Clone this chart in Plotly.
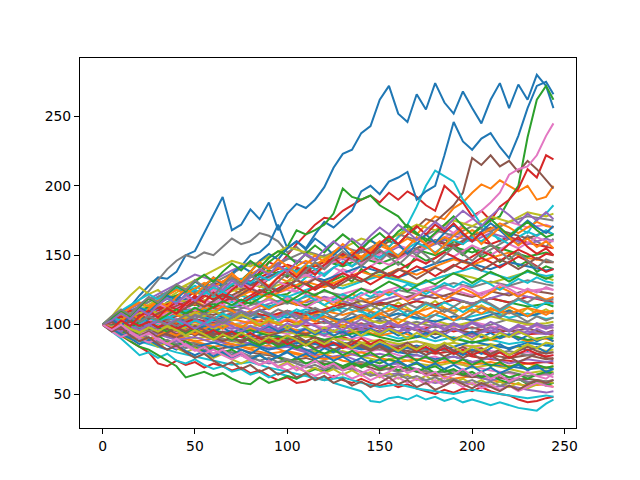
import plotly.graph_objects as go

X5 = list(range(0, 241, 5)) + [244]
X10 = list(range(0, 241, 10)) + [244]

# Prominent paths (read every 5 steps)
path_blue_top = [100,104,109,113,121,128,134,133,138,150,
                 153,166,180,192,168,172,183,176,188,168,
                 180,187,184,190,199,213,223,226,238,243,
                 262,272,252,246,266,255,274,260,252,268,
                 256,245,262,274,256,273,262,280,272,256]
path_blue_second = [100,97,102,104,108,112,110,116,120,118,
                    125,122,130,128,136,142,150,152,158,172,
                    155,160,155,165,174,170,176,182,196,200,
                    194,203,206,210,190,196,200,222,246,232,
                    226,234,238,228,220,236,256,272,275,266]
path_green_spike = [100,98,101,97,104,107,110,106,108,112,
                    115,111,112,116,120,117,118,122,125,121,
                    122,127,130,126,128,132,135,131,140,136,
                    138,142,145,141,150,146,148,153,160,158,
                    165,170,175,178,190,200,235,262,272,262]
path_green_mid = [100,103,99,105,108,104,110,114,111,117,
                  120,116,123,128,125,132,138,135,145,150,
                  156,168,165,168,172,180,198,192,190,193,
                  186,182,178,170,165,162,158,162,155,150,
                  156,148,152,145,150,142,146,138,142,140]
path_pink_high = [100,97,101,96,99,103,98,104,108,105,
                  110,113,109,115,118,114,120,124,119,125,
                  128,124,130,134,129,135,140,137,143,148,
                  145,152,150,156,162,158,165,170,166,172,
                  176,182,188,195,208,212,214,222,236,245]
path_red_high = [100,102,99,104,101,106,110,107,113,117,
                 114,120,125,122,128,133,130,138,145,142,
                 150,158,165,172,177,176,182,186,190,193,
                 188,195,190,196,192,186,182,200,194,188,
                 178,182,175,185,190,198,212,206,222,219]
path_brown_high = [100,99,103,106,102,108,112,110,115,119,
                   116,122,118,124,128,125,131,127,133,138,
                   134,140,137,143,140,146,150,147,153,150,
                   156,160,158,165,170,176,174,180,186,195,
                   220,215,222,214,218,210,218,212,204,198]
path_orange_high = [100,103,107,104,110,106,112,116,113,118,
                    115,121,124,120,126,122,128,132,128,134,
                    131,137,140,136,142,146,143,150,148,155,
                    160,156,163,168,165,172,178,176,184,188,
                    195,201,198,204,200,196,200,190,192,200]
path_cyan_high = [100,96,99,95,101,104,100,106,110,107,
                  112,109,115,119,116,121,118,124,128,125,
                  131,128,134,138,135,141,145,142,148,152,
                  158,156,163,172,185,200,211,207,203,190,
                  182,172,168,160,164,170,166,176,180,186]
path_cyan_low = [100,95,90,84,78,80,76,79,74,72,
                 75,71,68,70,66,68,64,66,62,65,
                 63,61,64,60,62,58,56,54,52,45,
                 44,47,48,46,49,46,48,45,47,44,
                 46,44,42,44,42,40,39,38,43,46]
path_red_low = [100,97,92,88,84,80,72,70,74,71,
                73,69,72,70,67,69,65,67,63,60,
                62,58,59,62,60,63,60,58,61,58,
                56,58,55,57,54,52,50,53,51,54,
                52,55,52,50,49,46,44,45,47,48]
path_green_low = [100,96,93,88,84,82,78,74,70,62,
                  64,66,63,65,61,58,57,62,58,60,
                  63,61,65,68,66,70,68,72,70,74,
                  72,75,73,70,72,68,70,66,68,64,
                  66,62,64,60,58,61,57,59,56,58]
path_gray_high = [100,104,108,112,118,124,132,140,146,150,
                  148,152,150,156,162,158,160,166,164,160,
                  152,156,150,146,150,144,148,142,146,150,
                  146,152,148,154,150,156,160,155,158,152,
                  156,150,154,158,162,158,164,160,156,162]
path_olive_early = [100,106,114,121,127,122,125,119,123,128,
                    124,120,126,122,118,123,119,115,120,116,
                    121,117,113,118,114,110,115,119,114,110,
                    115,111,116,112,108,113,117,112,108,113,
                    109,114,110,106,111,107,112,108,111,108]

# Background paths read every 10 steps
background_paths = [
    [100,94,90,86,88,82,79,80,76,72,74,70,67,69,66,63,65,61,58,60,57,55,56,53,51,52],
    [100,97,95,98,92,88,90,86,83,85,80,77,79,74,72,70,66,68,64,61,63,60,58,56,57,55],
    [100,103,98,96,92,94,89,85,87,82,84,80,76,78,73,70,72,68,65,67,63,60,62,59,57,58],
    [100,96,92,94,90,86,82,84,80,78,74,76,72,69,71,67,70,66,63,65,62,64,60,61,59,60],
    [100,102,106,101,97,99,94,96,91,88,90,86,88,84,80,82,78,75,77,72,70,67,65,63,64,62],
    [100,95,91,88,85,87,83,80,77,79,75,72,74,70,73,69,66,68,65,67,64,62,66,63,65,64],
    [100,98,101,97,94,90,92,88,85,83,86,82,79,81,77,74,76,72,70,73,69,71,68,65,67,66],
    [100,104,101,98,100,96,93,95,91,94,90,87,89,85,82,84,80,78,75,77,73,71,70,68,69,68],
    [100,97,93,95,91,88,84,86,82,79,81,78,75,77,80,76,73,75,72,74,71,73,70,72,69,70],
    [100,103,107,104,108,103,99,101,97,94,96,92,89,91,87,84,86,82,79,81,77,75,74,72,73,72],
    [100,96,98,93,89,91,87,90,86,83,85,81,84,80,77,79,76,78,74,77,73,76,72,75,73,74],
    [100,101,97,99,95,98,94,91,93,89,92,88,85,87,84,86,82,80,83,79,81,78,76,78,75,76],
    [100,105,102,108,104,100,103,98,95,97,93,96,92,89,91,87,85,88,84,82,85,81,79,80,77,78],
    [100,97,94,96,92,95,91,88,90,86,89,85,87,84,86,82,85,81,83,80,82,79,81,78,80,80],
    [100,102,99,95,97,93,96,100,96,93,95,91,94,90,87,89,86,88,85,87,84,86,83,85,81,82],
    [100,98,102,106,103,107,104,100,102,98,95,97,93,96,92,94,90,92,88,91,87,89,86,88,85,84],
    [100,95,92,89,86,84,87,83,86,82,85,88,84,87,83,86,82,85,81,84,88,85,83,87,85,86],
    [100,104,100,103,99,102,98,101,97,95,98,94,97,93,96,92,95,91,94,90,93,89,92,88,90,88],
    [100,99,95,98,102,99,96,93,96,92,90,93,89,92,95,91,88,91,94,90,87,90,93,89,91,90],
    [100,106,110,107,113,109,105,108,104,101,103,99,102,98,101,97,100,96,99,95,98,94,96,93,94,92],
    [100,97,100,96,99,103,100,97,99,95,98,101,97,100,96,99,95,98,94,97,93,96,92,95,93,94],
    [100,102,98,95,91,94,90,93,89,92,96,93,97,94,98,95,99,96,93,97,94,98,95,97,94,96],
    [100,96,93,97,94,98,102,99,103,100,104,101,98,102,99,103,100,97,101,98,102,99,96,100,97,98],
    [100,104,108,105,101,104,100,103,107,104,108,105,101,104,100,103,99,102,98,101,97,100,104,101,99,100],
    [100,98,95,99,96,100,97,101,98,102,99,103,106,102,105,101,104,100,103,99,102,106,103,100,101,102],
    [100,103,107,111,108,112,109,105,108,104,107,111,108,112,109,105,108,104,107,103,106,109,105,108,104,105],
    [100,97,101,98,102,106,103,107,104,108,105,109,106,103,107,104,108,105,102,106,103,107,110,106,109,108],
    [100,105,102,98,101,97,100,104,101,105,109,106,110,107,111,108,112,109,113,110,114,111,108,112,109,110],
    [100,102,106,103,107,111,115,112,116,113,117,114,118,115,112,116,113,117,114,118,115,119,116,113,115,113],
    [100,96,99,103,100,104,101,105,109,106,110,107,111,115,112,116,113,117,114,118,115,119,116,120,117,116],
    [100,104,101,105,109,106,110,114,111,115,119,116,120,117,113,117,121,118,122,119,115,119,123,120,118,119],
    [100,103,99,102,106,110,107,111,108,112,116,113,109,113,117,114,118,122,119,123,120,124,121,125,123,122],
    [100,106,112,109,115,119,116,120,124,121,125,122,118,122,126,123,127,124,128,125,121,125,128,124,126,125],
    [100,98,102,106,103,108,112,109,114,118,115,120,124,121,117,121,125,122,126,130,127,131,128,132,129,128],
    [100,104,109,113,118,115,120,124,129,126,131,135,132,128,132,136,133,129,133,137,134,130,134,138,134,132],
    [100,102,98,103,107,112,109,114,118,123,120,125,129,126,131,135,132,128,133,137,141,137,133,138,135,136],
    [100,107,113,120,126,122,128,133,129,135,140,136,132,137,142,138,134,139,144,148,144,140,145,142,139,140],
    [100,103,108,104,110,116,112,118,124,120,126,131,127,133,138,134,140,136,142,147,143,148,152,148,146,145],
    [100,105,110,116,121,126,132,128,134,139,135,141,146,142,148,144,149,154,150,156,152,157,153,149,152,150],
    [100,102,107,112,117,123,128,134,131,137,143,139,145,151,147,153,149,155,160,156,162,158,163,159,156,155],
    [100,108,115,122,129,136,132,139,145,141,148,144,150,147,153,149,156,152,158,164,160,166,162,158,162,160],
    [100,104,110,106,113,119,125,121,128,134,140,136,143,149,145,152,148,155,161,157,164,170,166,162,167,165],
    [100,103,99,106,112,118,124,130,126,133,139,135,142,148,144,151,157,153,160,166,162,168,174,170,172,170],
    [100,106,113,120,127,123,130,137,144,140,147,153,149,156,152,159,165,161,168,164,171,167,174,178,176,175],
    [100,104,111,118,125,132,139,146,142,149,156,152,148,155,162,158,165,172,168,175,171,178,174,181,178,180],
    [100,93,88,84,80,77,74,71,73,69,66,63,60,62,58,55,57,54,52,50,53,51,49,47,49,48],
]

# More background paths read every 5 steps
dense_paths = [
    [100,96,92,95,90,87,89,85,82,86, 83,80,84,81,78,82,79,83,80,77, 81,85,82,79,83,80,84,88,85,82, 86,83,80,84,81,78,82,85,81,78, 82,79,83,86,82,85,81,84,80,85],
    [100,103,106,102,105,109,106,110,107,104, 108,112,109,113,110,106,110,114,111,115, 118,114,117,121,118,114,118,122,119,116, 120,124,121,117,121,125,122,118,122,126, 123,119,123,127,124,120,124,121,118,120],
    [100,97,94,97,93,90,92,88,85,88, 84,81,84,80,82,78,75,78,74,77, 73,76,72,74,71,73,70,73,69,72, 68,71,67,70,66,69,65,68,64,67, 63,66,62,65,62,64,61,64,66,65],
    [100,104,101,105,109,106,110,114,111,115, 119,116,112,116,120,117,121,125,122,126, 130,127,123,127,131,128,132,136,133,129, 133,137,134,138,142,139,135,139,143,140, 144,148,145,141,145,149,146,142,138,140],
    [100,98,102,99,103,100,97,101,98,95, 99,96,100,104,101,98,102,99,96,100, 97,94,98,95,92,96,93,97,100,97, 94,98,95,99,96,92,96,93,97,94, 91,95,98,95,92,96,93,97,94,95],
    [100,102,99,96,100,97,94,97,93,96, 92,95,91,88,91,87,90,86,89,85, 88,84,87,83,86,82,85,88,84,81, 84,80,83,79,82,78,81,77,80,76, 79,75,78,74,77,73,76,79,76,75],
    [100,103,107,110,107,111,115,112,116,120, 117,121,125,122,126,130,127,123,127,131, 128,132,136,133,137,141,138,134,138,142, 146,143,147,151,148,144,148,152,149,153, 157,154,150,154,158,155,159,163,160,160],
    [100,97,100,96,99,95,98,102,99,103, 107,104,100,104,108,105,109,106,102,106, 110,107,103,107,104,100,104,108,105,109, 106,102,106,110,107,103,107,111,108,104, 108,112,109,105,109,106,102,106,103,105],
    [100,96,93,89,92,88,84,87,83,80, 83,79,76,79,75,72,75,71,74,70, 73,69,66,69,65,68,64,67,63,66, 62,65,61,64,60,63,59,62,58,61, 57,60,56,59,55,58,54,57,59,58],
    [100,105,110,114,118,122,118,123,127,124, 128,124,120,124,120,116,120,116,112,116, 120,117,121,118,114,118,122,119,123,120, 124,121,125,129,126,122,126,130,127,131, 128,132,129,125,129,133,130,134,131,130],
    [100,103,99,102,105,102,98,101,97,100, 96,99,95,98,94,97,93,96,99,95, 98,94,97,93,96,92,95,91,94,97, 93,96,92,95,91,94,90,93,89,92, 95,91,94,90,93,89,92,88,91,88],
    [100,97,94,90,93,89,92,95,92,96, 93,97,100,97,101,98,102,99,103,100, 104,101,105,102,106,103,99,103,107,104, 108,105,101,105,109,106,110,107,103,107, 111,108,112,109,113,110,106,110,107,110],
    [100,97,100,103,99,102,98,95,98,94, 97,93,90,93,89,92,88,85,88,84, 87,83,86,82,79,82,78,81,77,80, 76,79,75,78,74,77,73,76,72,75, 71,74,70,73,69,72,68,71,69,70],
    [100,102,106,110,107,111,108,112,116,113, 117,121,118,122,119,115,119,123,127,124, 128,132,129,125,129,133,137,134,138,142, 139,135,139,143,147,144,148,152,149,145, 149,153,150,146,150,154,151,147,151,150],
    [100,104,101,98,102,99,103,106,103,107, 104,101,105,102,106,110,107,111,108,105, 109,106,102,106,103,99,103,100,104,101, 97,101,98,102,99,103,100,96,100,97, 101,98,102,99,95,99,96,100,97,100],
    [100,96,99,95,92,95,91,94,98,95, 99,96,92,95,91,88,91,87,90,86, 89,92,88,91,87,90,86,83,86,82, 85,81,84,87,83,86,82,85,81,84, 80,83,79,82,78,81,84,81,79,80],
    [100,98,101,104,108,105,109,106,110,113, 110,114,117,114,118,115,111,115,118,115, 119,116,112,116,119,116,120,117,121,124, 121,125,122,118,122,126,123,127,124,128, 125,121,125,129,126,122,126,123,127,125],
    [100,97,94,91,93,90,87,89,86,83, 85,82,79,81,78,80,77,74,76,73, 75,72,69,71,68,70,67,69,66,63, 65,62,64,61,63,60,62,59,61,58, 60,57,59,56,58,61,58,60,59,60],
    [100,103,107,104,108,111,108,112,109,105, 109,106,110,107,103,107,104,100,104,101, 97,101,98,94,98,95,99,96,92,96, 93,97,94,90,94,91,95,92,88,92, 89,93,90,94,91,95,92,89,91,92],
    [100,96,100,97,101,105,102,106,103,99, 103,100,104,108,105,109,106,110,107,103, 107,111,108,104,108,112,109,113,110,106, 110,114,111,107,111,115,112,116,113,109, 113,117,114,110,114,118,115,112,116,115],
    [100,97,93,90,86,89,85,82,85,81, 78,81,77,80,76,79,75,78,74,77, 80,76,79,75,78,74,77,73,76,72, 75,71,74,70,73,69,72,68,71,67, 70,66,69,65,68,71,67,70,66,68],
    [100,104,108,112,116,113,117,121,125,122, 126,130,127,131,135,132,136,140,137,141, 138,142,146,143,147,151,148,152,149,153, 157,154,158,162,159,155,159,163,160,164, 168,165,169,173,170,166,170,174,171,170],
    [100,97,101,98,102,106,103,107,111,108, 112,109,113,117,114,118,115,119,123,120, 116,120,124,121,125,122,118,122,126,123, 127,131,128,124,128,132,129,133,137,134, 130,134,138,135,131,135,139,136,133,135],
    [100,103,106,102,99,102,98,101,97,100, 96,93,96,92,95,91,94,90,87,90, 86,89,85,88,84,87,83,86,90,86, 89,85,82,85,81,84,80,83,79,82, 78,81,77,80,76,79,82,79,77,78],
    [100,98,95,99,96,100,103,100,104,101, 97,101,98,102,99,95,99,96,100,97, 101,98,102,99,95,99,96,100,97,101, 98,102,99,95,99,96,100,97,101,98, 102,99,95,99,96,100,97,101,98,98],
    [100,102,99,103,107,104,108,111,108,112, 116,113,117,121,118,122,126,123,127,124, 128,132,129,133,130,126,130,134,131,135, 139,136,140,137,133,137,141,138,142,146, 143,139,143,147,144,140,144,148,145,145],
    [100,95,91,94,90,87,90,86,83,86, 82,79,82,78,75,78,74,71,74,70, 67,70,66,63,66,62,65,61,64,60, 63,59,62,58,61,57,60,56,59,55, 58,54,57,53,56,52,55,58,56,55],
    [100,104,108,105,102,106,103,99,103,107, 104,108,105,101,105,109,106,110,107,111, 108,104,108,112,109,105,109,113,110,114, 111,107,111,115,112,116,113,109,113,117, 114,118,115,111,115,119,116,120,117,118],
    [100,98,101,97,94,98,95,99,96,92, 96,93,89,93,90,94,91,87,91,88, 92,89,85,89,86,90,87,83,87,84, 88,85,81,85,82,86,83,87,84,80, 84,81,85,82,78,82,86,83,87,86],
    [100,105,103,108,112,110,115,119,116,121, 125,122,127,124,129,133,130,135,132,137, 141,138,143,140,136,141,145,142,147,151, 148,153,150,155,159,156,152,157,161,158, 163,160,165,162,158,163,167,164,168,165],
    [100,104,99,106,112,109,116,121,118,125, 131,127,134,129,137,142,138,146,151,147, 155,160,154,162,157,150,156,149,155,161, 156,163,158,151,158,165,159,166,172,165, 160,167,173,168,162,169,175,170,166,171],
    [100,96,103,108,104,111,117,113,120,126, 121,128,134,130,137,131,138,145,140,147, 142,136,143,150,145,152,158,153,147,154, 160,155,149,156,163,158,151,157,164,170, 165,158,164,170,163,157,162,156,160,155],
    [100,105,110,106,113,119,115,122,128,124, 131,136,131,138,144,139,146,141,148,153, 150,144,151,157,152,159,165,160,154,161, 166,160,167,172,166,160,166,172,178,171, 165,171,176,170,164,169,174,168,163,165],
    [100,97,103,99,106,110,105,112,108,115, 121,116,123,118,125,130,125,132,127,134, 139,134,141,136,143,148,143,150,156,151, 158,164,158,165,171,165,172,167,173,166, 160,166,158,152,158,163,156,151,155,150],
    [100,103,108,104,111,107,114,119,115,122, 117,124,129,125,132,127,134,140,136,143, 138,145,151,147,154,160,155,162,157,164, 170,165,172,167,161,168,174,169,176,182, 177,171,178,184,179,173,180,175,181,176],
    [100,95,98,92,88,91,86,82,85,80, 76,79,74,70,73,68,71,66,69,64, 67,62,65,60,63,58,61,56,59,55, 58,62,57,60,55,58,53,56,60,57, 54,58,55,52,56,53,57,60,58,60],
    [100,96,100,95,91,94,89,86,90,85, 81,84,79,82,77,80,75,71,74,69, 72,67,70,74,69,72,67,70,65,68, 63,66,70,65,68,63,66,61,64,68, 63,66,61,64,59,62,66,63,61,65],
    [100,106,111,107,114,120,116,123,129,125, 132,127,121,128,134,129,136,131,125,131, 137,132,139,145,140,147,153,148,142,148, 154,149,143,149,155,150,144,150,156,151, 146,152,158,153,147,152,146,141,147,145],
]

X_TICKS = [0, 50, 100, 150, 200, 250]
Y_TICKS = [50, 100, 150, 200, 250]

# matplotlib tab10 colour cycle
PALETTE = ["#1f77b4", "#ff7f0e", "#2ca02c", "#d62728", "#9467bd",
           "#8c564b", "#e377c2", "#7f7f7f", "#bcbd22", "#17becf"]

bg = list(background_paths)
ordered = [
    path_blue_top, path_orange_high, path_green_spike, path_red_high, bg[0],
    path_brown_high, path_pink_high, path_gray_high, path_olive_early, path_cyan_high,
    path_blue_second, bg[1], path_green_mid, path_red_low, bg[2],
    bg[3], bg[4], bg[5], bg[6], path_cyan_low,
    bg[7], bg[8], path_green_low,
] + bg[9:] + dense_paths


def xs_for(y):
    if len(y) == len(X10):
        return X10
    return X5[:len(y)]


fig = go.Figure()
for i, y in enumerate(ordered):
    xs = xs_for(y)
    fig.add_trace(go.Scatter(
        x=xs, y=y[:len(xs)], mode="lines",
        line=dict(color=PALETTE[i % 10], width=2),
        hoverinfo="skip", showlegend=False,
    ))

axis_common = dict(
    showgrid=False, zeroline=False, showline=True, linecolor="black",
    linewidth=1.1, mirror=True, ticks="outside", ticklen=5, tickwidth=1.1,
    tickcolor="black", tickfont=dict(family="DejaVu Sans", size=13.9, color="black"),
)
# The page body adds an 8px offset, so the figure is sized 632x472 to fit the window
fig.update_layout(
    width=632, height=472,
    margin=dict(l=72, r=64, t=50, b=52, pad=0),
    paper_bgcolor="white", plot_bgcolor="white",
    showlegend=False,
    xaxis=dict(range=[-12.2, 256.2], tickvals=X_TICKS, **axis_common),
    yaxis=dict(range=[25.5, 292.1], tickvals=Y_TICKS, **axis_common),
)

fig.write_html("out.html")
